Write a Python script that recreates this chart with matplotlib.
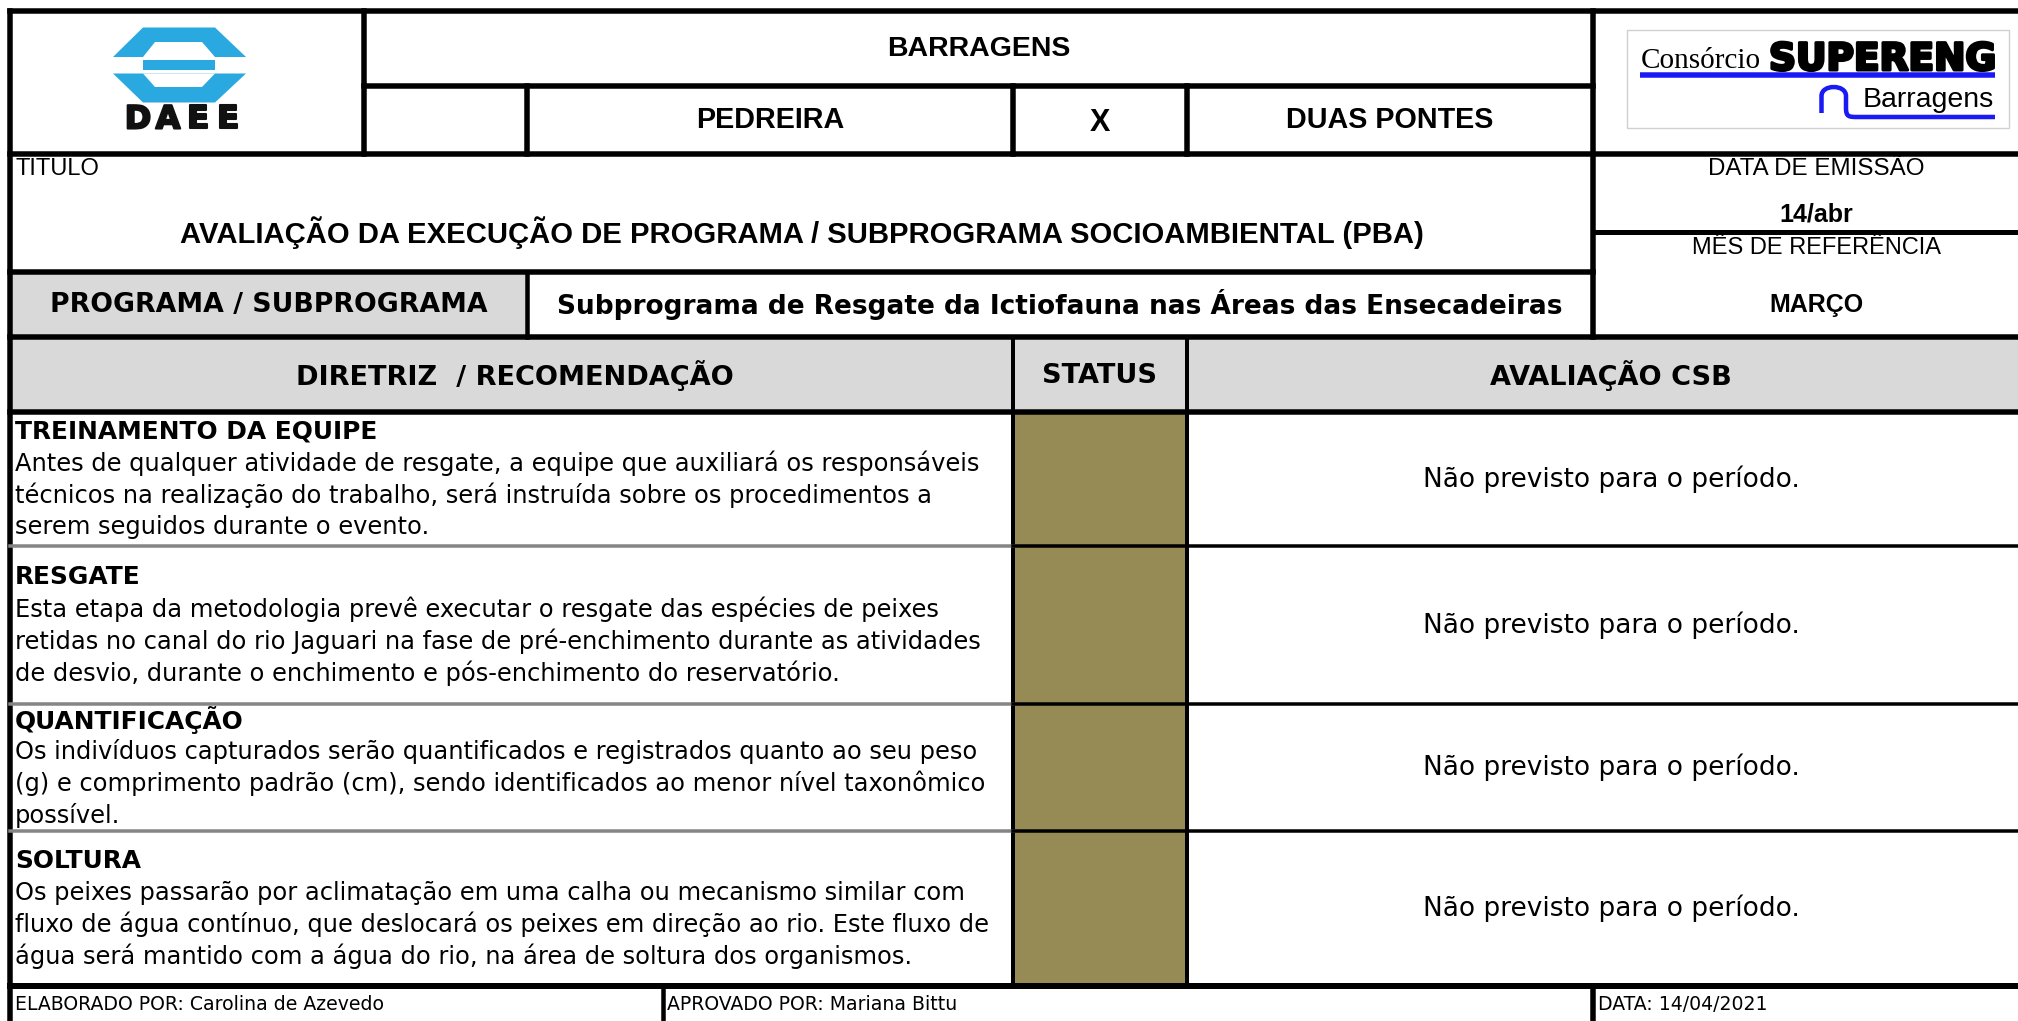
import matplotlib
matplotlib.use("Agg")
import matplotlib.pyplot as plt
import matplotlib.patheffects as pe
from matplotlib.patches import Rectangle, Polygon, PathPatch
from matplotlib.path import Path

# ------------------------------------------------------------------ data
project_title = "BARRAGENS"
dam_left = "PEDREIRA"
dam_sep = "X"
dam_right = "DUAS PONTES"
title_label = "TITULO"
title_text = "AVALIAÇÃO DA EXECUÇÃO DE PROGRAMA / SUBPROGRAMA SOCIOAMBIENTAL (PBA)"
issue_label = "DATA DE EMISSÃO"
issue_date = "14/abr"
ref_label = "MÊS DE REFERÊNCIA"
ref_month = "MARÇO"
program_label = "PROGRAMA / SUBPROGRAMA"
program_name = "Subprograma de Resgate da Ictiofauna nas Áreas das Ensecadeiras"
col_headers = ["DIRETRIZ  / RECOMENDAÇÃO", "STATUS", "AVALIAÇÃO CSB"]
row_titles = ["TREINAMENTO DA EQUIPE", "RESGATE", "QUANTIFICAÇÃO", "SOLTURA"]
row_texts = [
    ["Antes de qualquer atividade de resgate, a equipe que auxiliará os responsáveis",
     "técnicos na realização do trabalho, será instruída sobre os procedimentos a",
     "serem seguidos durante o evento."],
    ["Esta etapa da metodologia prevê executar o resgate das espécies de peixes",
     "retidas no canal do rio Jaguari na fase de pré-enchimento durante as atividades",
     "de desvio, durante o enchimento e pós-enchimento do reservatório."],
    ["Os indivíduos capturados serão quantificados e registrados quanto ao seu peso",
     "(g) e comprimento padrão (cm), sendo identificados ao menor nível taxonômico",
     "possível."],
    ["Os peixes passarão por aclimatação em uma calha ou mecanismo similar com",
     "fluxo de água contínuo, que deslocará os peixes em direção ao rio. Este fluxo de",
     "água será mantido com a água do rio, na área de soltura dos organismos."],
]
row_status_colors = ["#968B55", "#968B55", "#968B55", "#968B55"]
row_evaluations = ["Não previsto para o período."] * 4
footer_texts = ["ELABORADO POR: Carolina de Azevedo", "APROVADO POR: Mariana Bittu",
                "DATA: 14/04/2021"]
logo_left_text = "DAEE"
logo_right_texts = ["Consórcio", "SUPERENG", "Barragens"]

# ------------------------------------------------------------------ layout (pixels)
W, H = 2018, 1021
X0, XL, XE, XP, XS, XR, XF = 10, 364, 527, 1013, 1187, 1593, 663
Y0, Y1, Y2, YD, Y3, Y4, Y5 = 11, 86.5, 154, 232, 272, 337.5, 412
ROWS = [412, 546, 704, 831, 986]
GRAY = "#D9D9D9"
VER = ["DejaVu Sans"]
ARI = ["Liberation Sans", "DejaVu Sans"]

fig = plt.figure(figsize=(W / 100, H / 100), dpi=100)
ax = fig.add_axes([0, 0, 1, 1])
ax.set_xlim(0, W)
ax.set_ylim(H, 0)
ax.axis("off")


def px(w):
    return w * 0.72


def hline(y, x0, x1, w=5.5, c="black"):
    ax.plot([x0, x1], [y, y], color=c, lw=px(w), solid_capstyle="projecting", zorder=5)


def vline(x, y0, y1, w=5.5, c="black"):
    ax.plot([x, x], [y0, y1], color=c, lw=px(w), solid_capstyle="projecting", zorder=5)


def rect(x0, y0, x1, y1, fc):
    ax.add_patch(Rectangle((x0, y0), x1 - x0, y1 - y0, facecolor=fc, edgecolor="none", zorder=1))


# fills
rect(X0, Y3, XE, Y4, GRAY)
rect(X0, Y4, W, Y5, GRAY)
for i, c in enumerate(row_status_colors):
    rect(XP, ROWS[i], XS, ROWS[i + 1], c)

# lines
vline(X0, Y0, H)
vline(XL, Y0, Y2)
vline(XE, Y1, Y2)
vline(XE, Y3, Y4, 4.5)
vline(XP, Y1, Y2)
vline(XS, Y1, Y2)
vline(XP, Y4, ROWS[-1], 4)
vline(XS, Y4, ROWS[-1], 4)
vline(XR, Y0, Y4)
vline(XR, ROWS[-1], H)
vline(XF, ROWS[-1], H, 4.5)
hline(Y0, X0, W)
hline(Y1, XL, XR)
hline(Y2, X0, W)
hline(YD, XR, W, 5)
hline(Y3, X0, XR)
hline(Y4, X0, W)
hline(Y5, X0, W)
for y in ROWS[1:-1]:
    hline(y, X0, XP, 3.5, "#858585")
    hline(y, XP, W, 3.5, "black")
hline(ROWS[-1], X0, W, 6)

# ---- DAEE logo
blue = "#29A9E0"
ax.add_patch(Polygon([(143, 27.5), (215, 27.5), (246, 57), (113, 57)], closed=True, fc=blue, ec="none", zorder=2))
ax.add_patch(Polygon([(155, 42), (202, 42), (215, 57), (143, 57)], closed=True, fc="white", ec="none", zorder=3))
ax.add_patch(Rectangle((143, 60), 72, 10.5, fc=blue, ec="none", zorder=2))
ax.add_patch(Polygon([(113, 73.5), (246, 73.5), (215, 102.5), (143, 102.5)], closed=True, fc=blue, ec="none", zorder=2))
ax.add_patch(Polygon([(143, 73.5), (215, 73.5), (202, 87), (155, 87)], closed=True, fc="white", ec="none", zorder=3))
for k, ch in enumerate(logo_left_text):
    ax.text(138 + 30 * k, 120, ch, ha="center", va="center", fontsize=23,
            fontweight="bold", family=VER, color="#111111", zorder=4,
            path_effects=[pe.withStroke(linewidth=1.5, foreground="#111111")])

# ---- SUPERENG logo
ax.add_patch(Rectangle((1627, 30), 382, 98, fc="white", ec="#D0D0D0", lw=1, zorder=2))
ax.text(1641, 68, logo_right_texts[0], ha="left", va="baseline", fontsize=21,
        family=["Liberation Serif", "DejaVu Serif"], zorder=4)
ax.text(1769, 70, logo_right_texts[1], ha="left", va="baseline", fontsize=27,
        fontweight="bold", family=VER, zorder=4,
        path_effects=[pe.withStroke(linewidth=2.2, foreground="black")])
ax.plot([1640, 1995], [75.5, 75.5], color="#1A1AF5", lw=px(5.5), solid_capstyle="butt", zorder=4)
ax.text(1994, 107, logo_right_texts[2], ha="right", va="baseline", fontsize=20.5,
        family=ARI, zorder=4)
arch = Path([(1821.5, 113), (1821.5, 96), (1821.5, 84), (1846, 84), (1846, 96),
             (1846, 108), (1846, 117), (1849, 117), (1858, 117), (1995, 117)],
            [Path.MOVETO, Path.LINETO, Path.CURVE4, Path.CURVE4, Path.CURVE4,
             Path.LINETO, Path.CURVE4, Path.CURVE4, Path.CURVE4, Path.LINETO])
ax.add_patch(PathPatch(arch, fill=False, ec="#1A1AF5", lw=px(4.5), zorder=4))

# ---- header texts
ax.text((XL + XR) / 2, (Y0 + Y1) / 2, project_title, ha="center", va="center",
        fontsize=20.5, fontweight="bold", family=ARI)
ax.text((XE + XP) / 2, (Y1 + Y2) / 2, dam_left, ha="center", va="center",
        fontsize=20.7, fontweight="bold", family=ARI)
ax.text((XP + XS) / 2, (Y1 + Y2) / 2 + 3, dam_sep, ha="center", va="center",
        fontsize=22, fontweight="bold", family=ARI)
ax.text((XS + XR) / 2, (Y1 + Y2) / 2, dam_right, ha="center", va="center",
        fontsize=20.7, fontweight="bold", family=ARI)

ax.text(15, 169, title_label, ha="left", va="center", fontsize=17, family=ARI)
ax.text((X0 + XR) / 2, 233, title_text, ha="center", va="center",
        fontsize=21.1, fontweight="bold", family=ARI)
RC = 1816
ax.text(RC, 169, issue_label, ha="center", va="center", fontsize=17.4, family=ARI)
ax.text(RC, 214, issue_date, ha="center", va="center", fontsize=18, fontweight="bold", family=ARI)
ax.text(RC, 248, ref_label, ha="center", va="center", fontsize=17, family=ARI)
ax.text(RC, 305, ref_month, ha="center", va="center", fontsize=18, fontweight="bold", family=ARI)

ax.text((X0 + XE) / 2, (Y3 + Y4) / 2, program_label, ha="center", va="center",
        fontsize=19.3, fontweight="bold", family=VER)
ax.text((XE + XR) / 2, (Y3 + Y4) / 2, program_name, ha="center", va="center",
        fontsize=19, fontweight="bold", family=VER)

hy = (Y4 + Y5) / 2 + 1
for label, xc in zip(col_headers, [515, (XP + XS) / 2, 1611]):
    ax.text(xc, hy, label, ha="center", va="center", fontsize=19.5, fontweight="bold", family=VER)

# ---- rows
LS = 32
for i in range(len(row_titles)):
    mid = (ROWS[i] + ROWS[i + 1]) / 2
    lines = [row_titles[i]] + row_texts[i]
    n = len(lines)
    for j, ln in enumerate(lines):
        y = mid + (j - (n - 1) / 2) * LS
        ax.text(15, y, ln, ha="left", va="center",
                fontsize=17.9 if j == 0 else 17.4,
                fontweight="bold" if j == 0 else "normal", family=VER)
    ax.text(1611, mid, row_evaluations[i], ha="center", va="center", fontsize=19, family=VER)

# ---- footer
fy = (ROWS[-1] + H) / 2 + 1
for t, xl in zip(footer_texts, [15, XF + 4, XR + 5]):
    ax.text(xl, fy, t, ha="left", va="center", fontsize=13.6, family=VER)

fig.savefig("out.png", dpi=100, facecolor="white")
